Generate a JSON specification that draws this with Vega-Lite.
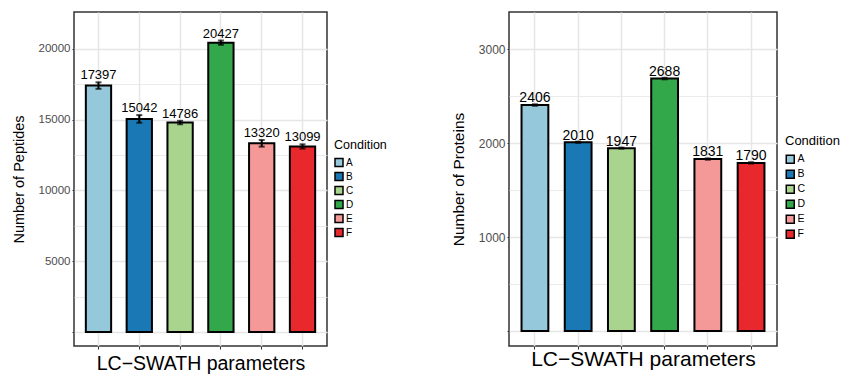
{
  "$schema": "https://vega.github.io/schema/vega-lite/v6.json",
  "padding": {"left": 10, "top": 11, "right": 0, "bottom": 0},
  "spacing": 62,
  "config": {
    "font": "Liberation Sans",
    "view": {"stroke": "#333333", "strokeWidth": 1.5},
    "axis": {"labelFont": "Liberation Sans", "titleFont": "Liberation Sans", "titleFontWeight": "normal", "titleColor": "#000000", "domain": false},
    "legend": {"titleFont": "Liberation Sans", "labelFont": "Liberation Sans"}
  },
  "resolve": {"legend": {"color": "independent"}, "scale": {"y": "independent"}},
  "hconcat": [
    {
      "width": 253,
      "height": 334,
      "data": {"values": [
        {"Condition": "A", "value": 17397, "lo": 17167, "hi": 17627},
        {"Condition": "B", "value": 15042, "lo": 14772, "hi": 15312},
        {"Condition": "C", "value": 14786, "lo": 14666, "hi": 14906},
        {"Condition": "D", "value": 20427, "lo": 20277, "hi": 20577},
        {"Condition": "E", "value": 13320, "lo": 13085, "hi": 13555},
        {"Condition": "F", "value": 13099, "lo": 12949, "hi": 13249}
      ]},
      "encoding": {
        "x": {"field": "Condition", "type": "nominal",
          "scale": {"paddingInner": 0.38, "paddingOuter": 0.29},
          "axis": {"labels": false, "ticks": true, "tickSize": 3, "tickColor": "#333333", "grid": true, "gridColor": "#e6e6e6", "gridWidth": 1.5, "bandPosition": 0.5,
            "title": "LC−SWATH parameters", "titleFontSize": 19.5, "titlePadding": 5}}
      },
      "layer": [
        {
          "mark": {"type": "bar", "stroke": "#000000", "strokeWidth": 2},
          "encoding": {
            "y": {"field": "value", "type": "quantitative",
              "scale": {"domain": [-988, 22591], "nice": false, "zero": false},
              "axis": {"values": [0, 2500, 5000, 7500, 10000, 12500, 15000, 17500, 20000],
                "labelExpr": "datum.value % 5000 == 0 && datum.value > 0 ? datum.label + '' : ''",
                "format": "d", "labelFontSize": 11.5, "labelColor": "#4d4d4d", "labelPadding": 2,
                "tickSize": 2, "tickColor": "#333333",
                "tickOpacity": {"condition": {"test": "datum.value % 5000 == 0", "value": 1}, "value": 0},
                "grid": true, "gridColor": "#e6e6e6",
                "gridWidth": {"condition": {"test": "datum.value % 5000 == 0", "value": 1.5}, "value": 0.8},
                "title": "Number of Peptides", "titleFontSize": 14.5, "titlePadding": 12}},
            "color": {"field": "Condition", "type": "nominal",
              "scale": {"domain": ["A", "B", "C", "D", "E", "F"], "range": ["#96c8dc", "#1a78b4", "#a8d48e", "#33a84a", "#f49898", "#e8282c"]},
              "legend": {"orient": "none", "legendX": 260, "legendY": 127, "title": "Condition", "titleFontSize": 12.5, "titleFontWeight": "normal", "titleColor": "#000000", "titlePadding": 6,
                "symbolType": "square", "symbolSize": 64, "symbolStrokeColor": "#000000", "symbolStrokeWidth": 1.5, "labelFontSize": 10, "labelColor": "#000000", "labelOffset": 2, "rowPadding": 0}}
          }
        },
        {
          "mark": {"type": "rule", "color": "#000000", "strokeWidth": 2},
          "encoding": {"y": {"field": "lo", "type": "quantitative"}, "y2": {"field": "hi"}}
        },
        {
          "mark": {"type": "tick", "color": "#000000", "thickness": 2, "size": 6},
          "encoding": {"y": {"field": "lo", "type": "quantitative"}}
        },
        {
          "mark": {"type": "tick", "color": "#000000", "thickness": 2, "size": 6},
          "encoding": {"y": {"field": "hi", "type": "quantitative"}}
        },
        {
          "mark": {"type": "text", "baseline": "alphabetic", "dy": -3, "fontSize": 13, "color": "#000000"},
          "encoding": {"y": {"field": "hi", "type": "quantitative"}, "text": {"field": "value", "type": "quantitative", "format": "d"}}
        }
      ]
    },
    {
      "width": 268,
      "height": 334,
      "data": {"values": [
        {"Condition": "A", "value": 2406, "lo": 2398, "hi": 2414},
        {"Condition": "B", "value": 2010, "lo": 2003, "hi": 2017},
        {"Condition": "C", "value": 1947, "lo": 1941, "hi": 1953},
        {"Condition": "D", "value": 2688, "lo": 2680, "hi": 2696},
        {"Condition": "E", "value": 1831, "lo": 1824, "hi": 1838},
        {"Condition": "F", "value": 1790, "lo": 1783, "hi": 1797}
      ]},
      "encoding": {
        "x": {"field": "Condition", "type": "nominal",
          "scale": {"paddingInner": 0.38, "paddingOuter": 0.29},
          "axis": {"labels": false, "ticks": true, "tickSize": 3, "tickColor": "#333333", "grid": true, "gridColor": "#e6e6e6", "gridWidth": 1.5, "bandPosition": 0.5,
            "title": "LC−SWATH parameters", "titleFontSize": 21, "titlePadding": -1}}
      },
      "layer": [
        {
          "mark": {"type": "bar", "stroke": "#000000", "strokeWidth": 2},
          "encoding": {
            "y": {"field": "value", "type": "quantitative",
              "scale": {"domain": [-160, 3397], "nice": false, "zero": false},
              "axis": {"values": [0, 500, 1000, 1500, 2000, 2500, 3000],
                "labelExpr": "datum.value % 1000 == 0 && datum.value > 0 ? datum.label + '' : ''",
                "format": "d", "labelFontSize": 12, "labelColor": "#4d4d4d", "labelPadding": 2,
                "tickSize": 2, "tickColor": "#333333",
                "tickOpacity": {"condition": {"test": "datum.value % 1000 == 0", "value": 1}, "value": 0},
                "grid": true, "gridColor": "#e6e6e6",
                "gridWidth": {"condition": {"test": "datum.value % 1000 == 0", "value": 1.5}, "value": 0.8},
                "title": "Number of Proteins", "titleFontSize": 15.5, "titlePadding": 12}},
            "color": {"field": "Condition", "type": "nominal",
              "scale": {"domain": ["A", "B", "C", "D", "E", "F"], "range": ["#96c8dc", "#1a78b4", "#a8d48e", "#33a84a", "#f49898", "#e8282c"]},
              "legend": {"orient": "none", "legendX": 276, "legendY": 123, "title": "Condition", "titleFontSize": 13, "titleFontWeight": "normal", "titleColor": "#000000", "titlePadding": 6,
                "symbolType": "square", "symbolSize": 64, "symbolStrokeColor": "#000000", "symbolStrokeWidth": 1.5, "labelFontSize": 10.5, "labelColor": "#000000", "labelOffset": 2, "rowPadding": 0}}
          }
        },
        {
          "mark": {"type": "rule", "color": "#000000", "strokeWidth": 2},
          "encoding": {"y": {"field": "lo", "type": "quantitative"}, "y2": {"field": "hi"}}
        },
        {
          "mark": {"type": "tick", "color": "#000000", "thickness": 2, "size": 6},
          "encoding": {"y": {"field": "lo", "type": "quantitative"}}
        },
        {
          "mark": {"type": "tick", "color": "#000000", "thickness": 2, "size": 6},
          "encoding": {"y": {"field": "hi", "type": "quantitative"}}
        },
        {
          "mark": {"type": "text", "baseline": "alphabetic", "dy": -2, "fontSize": 14, "color": "#000000"},
          "encoding": {"y": {"field": "hi", "type": "quantitative"}, "text": {"field": "value", "type": "quantitative", "format": "d"}}
        }
      ]
    }
  ]
}
